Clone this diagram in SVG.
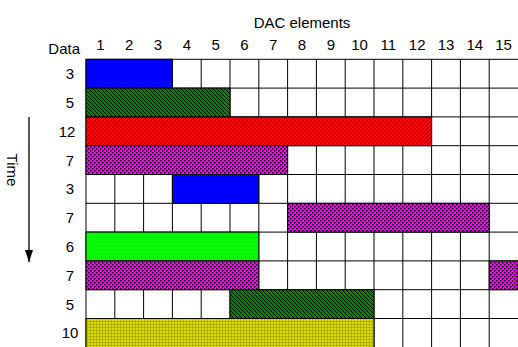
<svg xmlns="http://www.w3.org/2000/svg" width="518" height="347" viewBox="0 0 518 347">
<style>
text{font-family:"Liberation Sans",Arial,sans-serif;font-size:15px;fill:#000}
.num{text-anchor:middle}
.grid{stroke:#000;stroke-width:1;fill:none}
.bar{stroke:#000;stroke-width:1}
</style>
<defs>
<pattern id="pDG" patternUnits="userSpaceOnUse" width="4" height="4">
<rect width="4" height="4" fill="#008000"/>
<path d="M0,0 L4,4 M-1,3 L1,5 M3,-1 L5,1" stroke="#000" stroke-width="0.9"/>
</pattern>
<pattern id="pR" patternUnits="userSpaceOnUse" width="4" height="4">
<rect width="4" height="4" fill="#ff0000"/>
<path d="M0,4 L4,0 M-1,1 L1,-1 M3,5 L5,3" stroke="#000" stroke-width="0.9"/>
</pattern>
<pattern id="pM" patternUnits="userSpaceOnUse" width="4" height="4">
<rect width="4" height="4" fill="#ff00ff"/>
<rect x="0" y="0" width="1.5" height="1.5" fill="#000"/>
<rect x="2" y="2" width="1.5" height="1.5" fill="#000"/>
</pattern>
<pattern id="pG" patternUnits="userSpaceOnUse" width="4" height="4">
<rect width="4" height="4" fill="#00ff00"/>
<rect x="1" y="1" width="1" height="1" fill="#00c000"/>
</pattern>
<pattern id="pY" patternUnits="userSpaceOnUse" width="3" height="3">
<rect width="3" height="3" fill="#dede00"/>
<path d="M0,0.5 H3 M0.5,0 V3" stroke="#b0b000" stroke-width="1"/>
</pattern>
<marker id="arr" markerWidth="12" markerHeight="8" refX="12" refY="4" orient="auto" viewBox="0 0 12 8" markerUnits="userSpaceOnUse">
<path d="M0,0 L12,4 L0,8 Z" fill="#000"/>
</marker>
</defs>
<rect width="518" height="347" fill="#fff"/>

<g id="labels">
<text x="302" y="28" class="num">DAC elements</text>
<text x="80" y="54" text-anchor="end">Data</text>
<text x="100.4" y="50" class="num">1</text>
<text x="129.2" y="50" class="num">2</text>
<text x="158" y="50" class="num">3</text>
<text x="186.8" y="50" class="num">4</text>
<text x="215.6" y="50" class="num">5</text>
<text x="244.4" y="50" class="num">6</text>
<text x="273.2" y="50" class="num">7</text>
<text x="302" y="50" class="num">8</text>
<text x="330.8" y="50" class="num">9</text>
<text x="359.6" y="50" class="num">10</text>
<text x="388.4" y="50" class="num">11</text>
<text x="417.2" y="50" class="num">12</text>
<text x="446" y="50" class="num">13</text>
<text x="474.8" y="50" class="num">14</text>
<text x="503.6" y="50" class="num">15</text>
<text x="70" y="79.2" class="num">3</text>
<text x="70" y="108" class="num">5</text>
<text x="67" y="136.8" class="num">12</text>
<text x="70" y="165.6" class="num">7</text>
<text x="70" y="194.4" class="num">3</text>
<text x="70" y="223.2" class="num">7</text>
<text x="70" y="252" class="num">6</text>
<text x="70" y="280.8" class="num">7</text>
<text x="70" y="309.6" class="num">5</text>
<text x="70" y="338.4" class="num">10</text>
<text x="0" y="0" class="num" transform="translate(7,170) rotate(90)">Time</text>
</g>

<g id="grid">
<rect x="86" y="59.3" width="432" height="288" fill="#fff"/>
<path class="grid" d="M86,59.3V347 M114.8,59.3V347 M143.6,59.3V347 M172.4,59.3V347 M201.2,59.3V347 M230,59.3V347 M258.8,59.3V347 M287.6,59.3V347 M316.4,59.3V347 M345.2,59.3V347 M374,59.3V347 M402.8,59.3V347 M431.6,59.3V347 M460.4,59.3V347 M489.2,59.3V347 M86,59.3H518 M86,88.1H518 M86,116.9H518 M86,145.7H518 M86,174.5H518 M86,203.3H518 M86,232.1H518 M86,260.9H518 M86,289.7H518 M86,318.5H518"/>
</g>

<g id="bar-r1"><rect class="bar" x="86" y="59.3" width="86.4" height="28.8" fill="#0000ff"/></g>
<g id="bar-r2"><rect class="bar" x="86" y="88.1" width="144" height="28.8" fill="url(#pDG)"/></g>
<g id="bar-r3"><rect class="bar" x="86" y="116.9" width="345.6" height="28.8" fill="url(#pR)"/></g>
<g id="bar-r4"><rect class="bar" x="86" y="145.7" width="201.6" height="28.8" fill="url(#pM)"/></g>
<g id="bar-r5"><rect class="bar" x="172.4" y="174.5" width="86.4" height="28.8" fill="#0000ff"/></g>
<g id="bar-r6"><rect class="bar" x="287.6" y="203.3" width="201.6" height="28.8" fill="url(#pM)"/></g>
<g id="bar-r7"><rect class="bar" x="86" y="232.1" width="172.8" height="28.8" fill="url(#pG)"/></g>
<g id="bar-r8"><rect class="bar" x="86" y="260.9" width="172.8" height="28.8" fill="url(#pM)"/><rect class="bar" x="489.2" y="260.9" width="29" height="28.8" fill="url(#pM)"/></g>
<g id="bar-r9"><rect class="bar" x="230" y="289.7" width="144" height="28.8" fill="url(#pDG)"/></g>
<g id="bar-r10"><rect class="bar" x="86" y="318.5" width="288" height="29" fill="url(#pY)"/></g>

<g id="connectors">
<line x1="29" y1="117" x2="29" y2="262" stroke="#000" stroke-width="1.3" marker-end="url(#arr)"/>
</g>
</svg>
